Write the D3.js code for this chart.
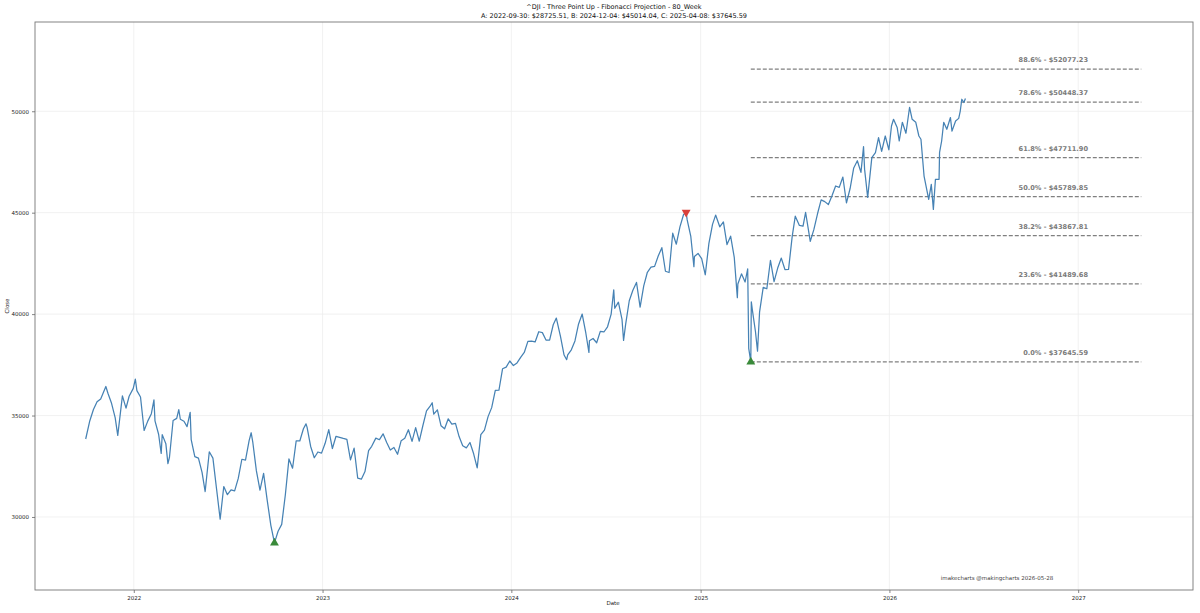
<!DOCTYPE html>
<html>
<head>
<meta charset="utf-8">
<script src="https://cdn.jsdelivr.net/npm/d3@7"></script>
<style>
  body { margin: 0; background: #fff; }
  svg { font-family: "DejaVu Sans", sans-serif; }
</style>
</head>
<body>
<div id="chart"></div>
<script>
// Close prices (weekly, with a few daily turning points)
var dates = [
  "2021-09-30","2021-10-08","2021-10-15","2021-10-22","2021-10-29","2021-11-08","2021-11-12","2021-11-19","2021-11-26","2021-12-01","2021-12-10","2021-12-17","2021-12-23","2021-12-31",
  "2022-01-04","2022-01-07","2022-01-14","2022-01-21","2022-01-28","2022-02-04","2022-02-09","2022-02-11","2022-02-18","2022-02-23","2022-02-25","2022-03-04","2022-03-08","2022-03-11","2022-03-18","2022-03-25","2022-03-29","2022-04-01","2022-04-08","2022-04-14","2022-04-20","2022-04-22","2022-04-29","2022-05-06","2022-05-13","2022-05-19","2022-05-27","2022-06-03","2022-06-10","2022-06-17","2022-06-24","2022-07-01","2022-07-08","2022-07-15","2022-07-22","2022-07-29","2022-08-05","2022-08-12","2022-08-16","2022-08-19","2022-08-26","2022-09-02","2022-09-09","2022-09-16","2022-09-23","2022-09-30","2022-10-07","2022-10-14","2022-10-21","2022-10-28","2022-11-04","2022-11-11","2022-11-18","2022-11-25","2022-11-30","2022-12-02","2022-12-09","2022-12-16","2022-12-23","2022-12-30",
  "2023-01-06","2023-01-13","2023-01-20","2023-01-27","2023-02-03","2023-02-10","2023-02-17","2023-02-24","2023-03-03","2023-03-10","2023-03-17","2023-03-24","2023-03-31","2023-04-06","2023-04-14","2023-04-21","2023-04-28","2023-05-05","2023-05-12","2023-05-19","2023-05-26","2023-06-02","2023-06-09","2023-06-16","2023-06-23","2023-06-30","2023-07-07","2023-07-14","2023-07-21","2023-07-28","2023-08-01","2023-08-04","2023-08-11","2023-08-18","2023-08-25","2023-09-01","2023-09-08","2023-09-15","2023-09-22","2023-09-29","2023-10-06","2023-10-13","2023-10-20","2023-10-27","2023-11-03","2023-11-10","2023-11-17","2023-11-24","2023-12-01","2023-12-08","2023-12-15","2023-12-22","2023-12-29",
  "2024-01-05","2024-01-12","2024-01-19","2024-01-26","2024-02-02","2024-02-09","2024-02-16","2024-02-23","2024-03-01","2024-03-08","2024-03-15","2024-03-22","2024-03-28","2024-04-05","2024-04-12","2024-04-17","2024-04-19","2024-04-26","2024-05-03","2024-05-10","2024-05-17","2024-05-24","2024-05-30","2024-05-31","2024-06-07","2024-06-14","2024-06-21","2024-06-28","2024-07-05","2024-07-12","2024-07-17","2024-07-19","2024-07-26","2024-08-02","2024-08-05","2024-08-09","2024-08-16","2024-08-23","2024-08-30","2024-09-06","2024-09-13","2024-09-20","2024-09-27","2024-10-04","2024-10-11","2024-10-18","2024-10-25","2024-11-01","2024-11-08","2024-11-15","2024-11-22","2024-11-29","2024-12-04","2024-12-06","2024-12-13","2024-12-19","2024-12-20","2024-12-27",
  "2025-01-03","2025-01-10","2025-01-17","2025-01-24","2025-01-30","2025-02-07","2025-02-14","2025-02-21","2025-02-28","2025-03-07","2025-03-13","2025-03-14","2025-03-21","2025-03-28","2025-04-02","2025-04-04","2025-04-08","2025-04-09","2025-04-11","2025-04-17","2025-04-21","2025-04-25","2025-05-02","2025-05-09","2025-05-16","2025-05-23","2025-05-30","2025-06-06","2025-06-13","2025-06-20","2025-06-27","2025-07-03","2025-07-11","2025-07-18","2025-07-23","2025-08-01","2025-08-08","2025-08-15","2025-08-22","2025-08-29","2025-09-05","2025-09-12","2025-09-19","2025-09-26","2025-10-03","2025-10-10","2025-10-17","2025-10-24","2025-10-31","2025-11-07","2025-11-12","2025-11-14","2025-11-20","2025-11-28","2025-12-05","2025-12-11","2025-12-17","2025-12-24","2025-12-31",
  "2026-01-05","2026-01-09","2026-01-16","2026-01-20","2026-01-26","2026-02-02","2026-02-09","2026-02-14","2026-02-21","2026-02-27","2026-03-03","2026-03-09","2026-03-18","2026-03-23","2026-03-27","2026-03-31","2026-04-07","2026-04-08","2026-04-12","2026-04-16","2026-04-22","2026-04-29","2026-05-02","2026-05-09","2026-05-15","2026-05-18","2026-05-21","2026-05-25","2026-05-28"
];
var closes = [
  33844,34746,35295,35677,35820,36432,36100,35602,34899,34022,35971,35365,35950,36338,
  36799,36231,35912,34265,34725,35089,35768,34738,34079,33131,34059,33614,32632,32944,34754,34861,35294,34818,34721,34451,35160,33811,32977,32899,32197,31253,33213,32899,31393,29888,31501,31097,31338,31288,31899,32845,32803,33761,34152,33706,32283,31318,32151,30822,29590,28725,29297,29634,31082,32861,32403,33749,33746,34347,34589,34430,33476,32920,33204,33147,
  33631,34303,33375,33978,33926,33870,33827,32817,33391,31910,31862,32238,33274,33485,33886,33809,34098,33674,33300,33427,33093,33762,33877,34299,33727,34408,33734,34509,35228,35459,35630,35065,35281,34500,34346,34838,34576,34618,33964,33507,33407,33670,33127,32418,34061,34283,34947,35390,36245,36247,37305,37385,37689,
  37466,37592,37863,38109,38654,38671,38627,39131,39087,38722,38714,39475,39807,38904,37983,37753,37986,38239,38676,39513,40004,39070,38111,38686,38799,38589,39150,39119,39375,40001,41198,40287,40589,39737,38703,39497,40659,41175,41563,40345,41393,42063,42313,42352,42864,43275,42114,42052,43989,43445,44297,44911,45014,44643,43828,42342,42840,42992,
  42732,41938,43488,44424,44882,44303,44546,43428,43841,42802,40813,41488,41985,41583,42225,38315,37645,40608,40212,39142,38170,40114,41317,41249,42655,41603,42270,42763,42197,42207,43819,44828,44371,44342,45010,43589,44176,44946,45631,45545,45401,45834,46315,46247,46758,45479,46191,47207,47563,46987,48254,47147,45752,47716,47955,48704,48025,48780,48100,
  49274,49605,49200,48534,49457,48916,50197,49605,49457,48780,48618,46806,45656,46397,45163,46643,46643,47976,48534,49457,49112,49690,49020,49520,49650,50012,50592,50432,50627
];

// Three point pattern
var pointDates = ["2022-09-30", "2024-12-04", "2025-04-08"];
var pointPrices = [28725.51, 45014.04, 37645.59];
var pointTypes = ["low", "high", "low"];

// Fibonacci projection levels
var fibRatios = ["0.0%", "23.6%", "38.2%", "50.0%", "61.8%", "78.6%", "88.6%"];
var fibPrices = [37645.59, 41489.68, 43867.81, 45789.85, 47711.90, 50448.37, 52077.23];
var fibEnd = "2027-05-03";

var yTicks = [30000, 35000, 40000, 45000, 50000];
var xTickYears = ["2022", "2023", "2024", "2025", "2026", "2027"];

var width = 1200;
var height = 613;
var mLeft = 35, mRight = 1193, mTop = 22, mBottom = 590;

var parseDate = d3.timeParse("%Y-%m-%d");
var series = dates.map(function(d, i) {
  return [parseDate(d), closes[i]];
});

var xScale = d3.scaleTime()
               .domain([parseDate("2021-06-24"), parseDate("2027-08-11")])
               .range([mLeft, mRight]);
var yScale = d3.scaleLinear()
               .domain([26400, 54400])
               .range([mBottom, mTop]);

var chart = d3.select('#chart')
              .append('svg')
              .attr('width', width)
              .attr('height', height);

chart.append('rect')
     .attr('width', width)
     .attr('height', height)
     .attr('fill', '#fff');

// Grid
var xTickDates = xTickYears.map(function(y) { return parseDate(y + "-01-01"); });
chart.append('g')
     .selectAll('line')
     .data(xTickDates)
     .enter()
     .append('line')
     .attr('x1', function(d) { return xScale(d); })
     .attr('x2', function(d) { return xScale(d); })
     .attr('y1', mTop)
     .attr('y2', mBottom)
     .attr('stroke', '#ededed')
     .attr('stroke-width', 0.8);
chart.append('g')
     .selectAll('line')
     .data(yTicks)
     .enter()
     .append('line')
     .attr('x1', mLeft)
     .attr('x2', mRight)
     .attr('y1', function(d) { return yScale(d); })
     .attr('y2', function(d) { return yScale(d); })
     .attr('stroke', '#ededed')
     .attr('stroke-width', 0.8);

// Fib lines
var fibX1 = xScale(parseDate(pointDates[2]));
var fibX2 = xScale(parseDate(fibEnd));
chart.append('g')
     .selectAll('line')
     .data(fibPrices)
     .enter()
     .append('line')
     .attr('x1', fibX1)
     .attr('x2', fibX2)
     .attr('y1', function(d) { return yScale(d); })
     .attr('y2', function(d) { return yScale(d); })
     .attr('stroke', '#808080')
     .attr('stroke-width', 1.3)
     .attr('stroke-dasharray', '4,2');

chart.append('g')
     .selectAll('text')
     .data(fibPrices)
     .enter()
     .append('text')
     .attr('x', 1088)
     .attr('y', function(d) { return yScale(d) - 7; })
     .attr('text-anchor', 'end')
     .attr('font-size', 6.6)
     .attr('font-weight', 'bold')
     .attr('fill', '#7a7a7a')
     .text(function(d, i) { return fibRatios[i] + " - $" + d.toFixed(2); });

// Price line
var line = d3.line()
             .x(function(d) { return xScale(d[0]); })
             .y(function(d) { return yScale(d[1]); });
chart.append('path')
     .datum(series)
     .attr('d', line)
     .attr('fill', 'none')
     .attr('stroke', '#4682b4')
     .attr('stroke-width', 1.25)
     .attr('stroke-linejoin', 'round');

// Markers
chart.append('g')
     .selectAll('path')
     .data(pointDates)
     .enter()
     .append('path')
     .attr('d', d3.symbol().type(d3.symbolTriangle).size(34))
     .attr('transform', function(d, i) {
       var rot = pointTypes[i] === "high" ? 180 : 0;
       return "translate(" + xScale(parseDate(d)) + "," + yScale(pointPrices[i]) + ") rotate(" + rot + ")";
     })
     .attr('fill', function(d, i) { return pointTypes[i] === "high" ? '#d9403a' : '#3a8a3a'; });

// Frame
chart.append('rect')
     .attr('x', mLeft)
     .attr('y', mTop)
     .attr('width', mRight - mLeft)
     .attr('height', mBottom - mTop)
     .attr('fill', 'none')
     .attr('stroke', '#777')
     .attr('stroke-width', 0.9);

// X-Axis
var xAxis = d3.axisBottom(xScale)
              .tickValues(xTickDates)
              .tickFormat(d3.timeFormat("%Y"))
              .tickSize(3)
              .tickPadding(3);
var gx = chart.append('g')
              .attr('transform', 'translate(0,' + mBottom + ')')
              .call(xAxis);

// Y-Axis
var yAxis = d3.axisLeft(yScale)
              .tickValues(yTicks)
              .tickFormat(d3.format("d"))
              .tickSize(3)
              .tickPadding(3);
var gy = chart.append('g')
              .attr('transform', 'translate(' + mLeft + ',0)')
              .call(yAxis);

[gx, gy].forEach(function(g) {
  g.select('.domain').remove();
  g.selectAll('line').attr('stroke', '#666').attr('stroke-width', 0.8);
  g.selectAll('text').attr('font-size', 5.5).attr('fill', '#222').attr('font-family', '"DejaVu Sans", sans-serif');
});

// Labels
chart.append('text')
     .attr('x', 613)
     .attr('y', 605)
     .attr('text-anchor', 'middle')
     .attr('font-size', 5.5)
     .attr('fill', '#222')
     .text('Date');
chart.append('text')
     .attr('transform', 'translate(9,' + ((mTop + mBottom) / 2) + ') rotate(-90)')
     .attr('text-anchor', 'middle')
     .attr('font-size', 5.5)
     .attr('fill', '#222')
     .text('Close');

chart.append('text')
     .attr('x', 614)
     .attr('y', 9)
     .attr('text-anchor', 'middle')
     .attr('font-size', 6.5)
     .attr('fill', '#111')
     .text('^DJI - Three Point Up - Fibonacci Projection - 80_Week');
chart.append('text')
     .attr('x', 614)
     .attr('y', 18)
     .attr('text-anchor', 'middle')
     .attr('font-size', 6.5)
     .attr('fill', '#111')
     .text('A: 2022-09-30: $28725.51, B: 2024-12-04: $45014.04, C: 2025-04-08: $37645.59');

chart.append('text')
     .attr('x', 997)
     .attr('y', 580)
     .attr('text-anchor', 'middle')
     .attr('font-size', 5.5)
     .attr('fill', '#444')
     .text('imakecharts @makingcharts 2026-05-28');
</script>
</body>
</html>
